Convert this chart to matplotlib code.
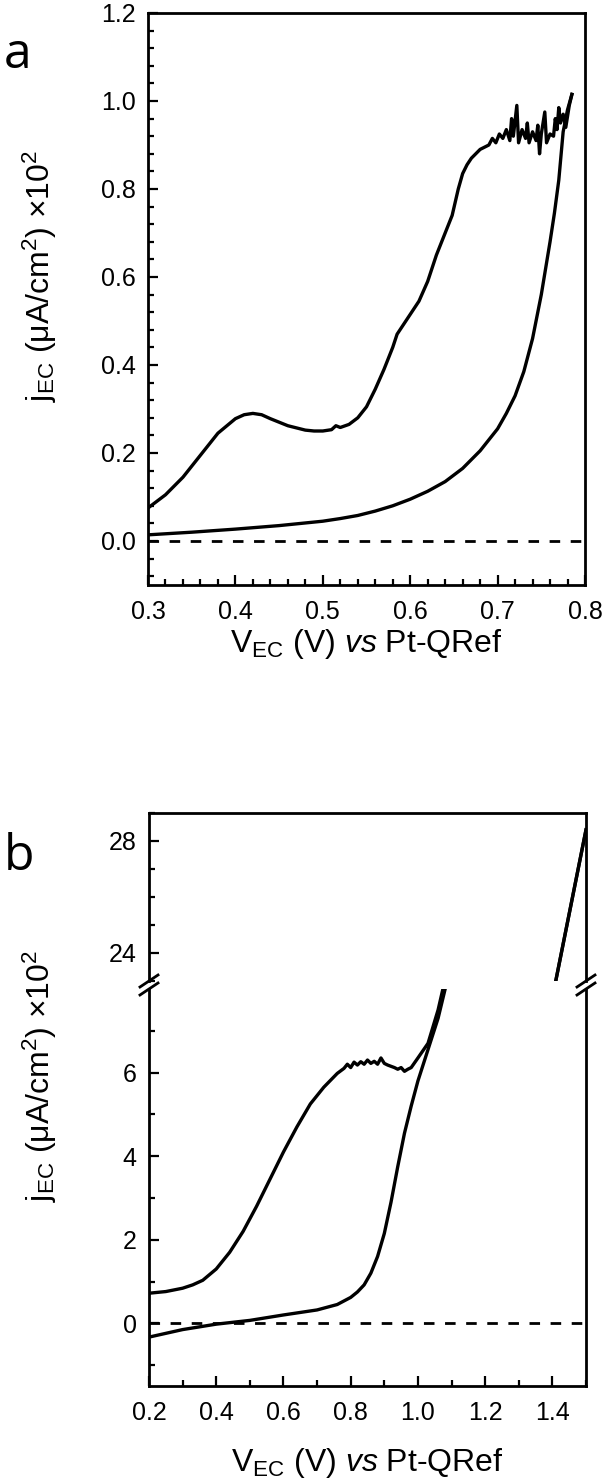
import matplotlib
matplotlib.use('Agg')
import matplotlib.pyplot as plt
from matplotlib.lines import Line2D
from matplotlib.ticker import MultipleLocator, FixedLocator

plt.rcParams['font.family'] = ['Liberation Sans', 'DejaVu Sans']
plt.rcParams['mathtext.fontset'] = 'custom'
plt.rcParams['mathtext.rm'] = 'Liberation Sans'
plt.rcParams['mathtext.it'] = 'Liberation Sans:italic'

# panel a: forward scan (with the peak), then the return scan
a_fwd_v = [0.300, 0.320, 0.340, 0.360, 0.380, 0.400, 0.410, 0.420, 0.430, 0.440,
           0.460, 0.480, 0.490, 0.500, 0.510, 0.515, 0.520, 0.530, 0.540, 0.550,
           0.560, 0.570, 0.580, 0.585, 0.590, 0.600, 0.610, 0.620, 0.630, 0.640,
           0.648, 0.655, 0.660, 0.665, 0.670, 0.680, 0.690, 0.694, 0.698, 0.702,
           0.706, 0.710, 0.714, 0.716, 0.718, 0.722, 0.724, 0.728, 0.732, 0.734,
           0.736, 0.740, 0.744, 0.746, 0.748, 0.750, 0.754, 0.756, 0.760, 0.764,
           0.766, 0.768, 0.770, 0.772, 0.775, 0.778, 0.782, 0.785]
a_fwd_j = [0.075, 0.105, 0.145, 0.195, 0.245, 0.278, 0.287, 0.290, 0.287, 0.278,
           0.262, 0.252, 0.250, 0.250, 0.253, 0.262, 0.258, 0.265, 0.280, 0.305,
           0.345, 0.390, 0.440, 0.470, 0.485, 0.515, 0.545, 0.590, 0.650, 0.700,
           0.740, 0.800, 0.835, 0.855, 0.870, 0.890, 0.900, 0.915, 0.905, 0.925,
           0.915, 0.935, 0.910, 0.960, 0.920, 0.990, 0.905, 0.935, 0.915, 0.950,
           0.905, 0.930, 0.910, 0.945, 0.880, 0.925, 0.975, 0.905, 0.925, 0.920,
           0.960, 0.935, 0.985, 0.950, 0.970, 0.940, 0.990, 1.015]
a_rev_v = [0.785, 0.780, 0.775, 0.770, 0.765, 0.760, 0.755, 0.750, 0.740, 0.730,
           0.720, 0.710, 0.700, 0.680, 0.660, 0.640, 0.620, 0.600, 0.580, 0.560,
           0.540, 0.520, 0.500, 0.450, 0.400, 0.350, 0.300]
a_rev_j = [1.015, 0.980, 0.930, 0.820, 0.745, 0.680, 0.620, 0.560, 0.460, 0.385,
           0.330, 0.290, 0.255, 0.205, 0.165, 0.135, 0.113, 0.095, 0.080, 0.068,
           0.058, 0.051, 0.045, 0.035, 0.027, 0.020, 0.014]

# panel b
b_fwd_v = [0.20, 0.25, 0.30, 0.33, 0.36, 0.40, 0.44, 0.48, 0.52, 0.56,
           0.60, 0.64, 0.68, 0.72, 0.76, 0.78, 0.79, 0.80, 0.81, 0.82,
           0.83, 0.84, 0.85, 0.86, 0.87, 0.88, 0.89, 0.90, 0.91, 0.92,
           0.93, 0.94, 0.95, 0.96, 0.97, 0.98, 1.00, 1.03, 1.06, 1.08,
           1.41, 1.50]
b_fwd_j = [0.72, 0.76, 0.84, 0.92, 1.03, 1.30, 1.70, 2.20, 2.80, 3.45,
           4.10, 4.70, 5.25, 5.65, 5.98, 6.10, 6.20, 6.12, 6.25, 6.18,
           6.26, 6.20, 6.30, 6.22, 6.27, 6.20, 6.35, 6.22, 6.18, 6.15,
           6.12, 6.08, 6.12, 6.03, 6.08, 6.12, 6.35, 6.70, 7.50, 8.20,
           23.0, 28.4]
b_rev_v = [1.50, 1.41, 1.09, 1.06, 1.04, 1.02, 1.00, 0.98, 0.96, 0.94,
           0.92, 0.90, 0.88, 0.86, 0.84, 0.82, 0.80, 0.76, 0.70, 0.60,
           0.50, 0.40, 0.30, 0.20]
b_rev_j = [28.4, 23.0, 8.3, 7.3, 6.8, 6.3, 5.8, 5.2, 4.55, 3.75,
           2.9, 2.15, 1.6, 1.2, 0.92, 0.75, 0.62, 0.45, 0.32, 0.20,
           0.07, -0.02, -0.15, -0.33]
b_lower_major = [0, 2, 4, 6]
b_lower_minor = [-1, 1, 3, 5, 7]

W, H = 603, 1482
fig = plt.figure(figsize=(W / 100, H / 100), dpi=100)


def box(l, t, r, b):
    return [l / W, 1 - b / H, (r - l) / W, (b - t) / H]


def style(ax):
    for s in ax.spines.values():
        s.set_linewidth(2.0)
    ax.tick_params(which='both', direction='in', right=False, top=False, width=1.6)
    ax.tick_params(which='major', length=7)
    ax.tick_params(which='minor', length=4.5)
    ax.tick_params(axis='x', labelsize=18, pad=11)
    ax.tick_params(axis='y', labelsize=18, pad=9)


lw = 2.4
dash = (0, (3.8, 3.8))
ylab = 'j$_{\\rm EC}$ (μA/cm$^2$) ×10$^2$'
xlab = 'V$_{\\rm EC}$ (V) $\\mathit{vs}$ Pt-QRef'
fmt1 = lambda v, p: f'{v:.1f}'

# ---- panel a
ax = fig.add_axes(box(148, 13, 585, 585))
ax.plot(a_fwd_v, a_fwd_j, color='black', lw=lw)
ax.plot(a_rev_v, a_rev_j, color='black', lw=lw)
ax.axhline(0, color='black', lw=2.0, ls=dash)
ax.set_xlim(0.3, 0.8)
ax.set_ylim(-0.1, 1.2)
ax.xaxis.set_major_locator(MultipleLocator(0.1))
ax.xaxis.set_minor_locator(MultipleLocator(0.02))
ax.yaxis.set_major_locator(MultipleLocator(0.2))
ax.yaxis.set_minor_locator(MultipleLocator(0.04))
ax.yaxis.set_major_formatter(fmt1)
ax.xaxis.set_major_formatter(fmt1)
style(ax)
ax.set_xlabel(xlab, fontsize=23, labelpad=2)
fig.text(40 / W, 1 - 276 / H, ylab, rotation=90, ha='center', va='center', fontsize=23)
fig.text(4 / W, 1 - 68 / H, 'a', fontsize=36, family='Open Sans', ha='left', va='baseline')

# ---- panel b (broken axis)
axt = fig.add_axes(box(149, 813, 586, 981))
axb = fig.add_axes(box(149, 989, 586, 1386))
for a in (axt, axb):
    a.plot(b_fwd_v, b_fwd_j, color='black', lw=lw)
    a.plot(b_rev_v, b_rev_j, color='black', lw=lw)
    a.set_xlim(0.2, 1.5)
    style(a)
axb.axhline(0, color='black', lw=2.0, ls=dash)
axt.set_ylim(23.0, 29.0)
axb.set_ylim(-1.5, 8.0)
axt.spines['bottom'].set_visible(False)
axb.spines['top'].set_visible(False)
axt.tick_params(axis='x', which='both', bottom=False, labelbottom=False)
axt.yaxis.set_major_locator(MultipleLocator(4))
axt.yaxis.set_minor_locator(MultipleLocator(1))
axb.yaxis.set_major_locator(FixedLocator(b_lower_major))
axb.yaxis.set_minor_locator(FixedLocator(b_lower_minor))
axb.xaxis.set_major_locator(MultipleLocator(0.2))
axb.xaxis.set_minor_locator(MultipleLocator(0.1))
axb.xaxis.set_major_formatter(fmt1)
axb.set_xlabel(xlab, fontsize=23, labelpad=15)
fig.text(40 / W, 1 - 1076 / H, ylab, rotation=90, ha='center', va='center', fontsize=23)
fig.text(4 / W, 1 - 870 / H, 'b', fontsize=36, family='Open Sans', ha='left', va='baseline')

# break marks on both spines
for xs in (149, 586):
    for ys in (981, 989):
        fig.add_artist(Line2D([(xs - 9) / W, (xs + 9) / W],
                              [1 - (ys + 6) / H, 1 - (ys - 6) / H],
                              color='black', lw=2.0, transform=fig.transFigure))

fig.savefig('out.png', dpi=100)
